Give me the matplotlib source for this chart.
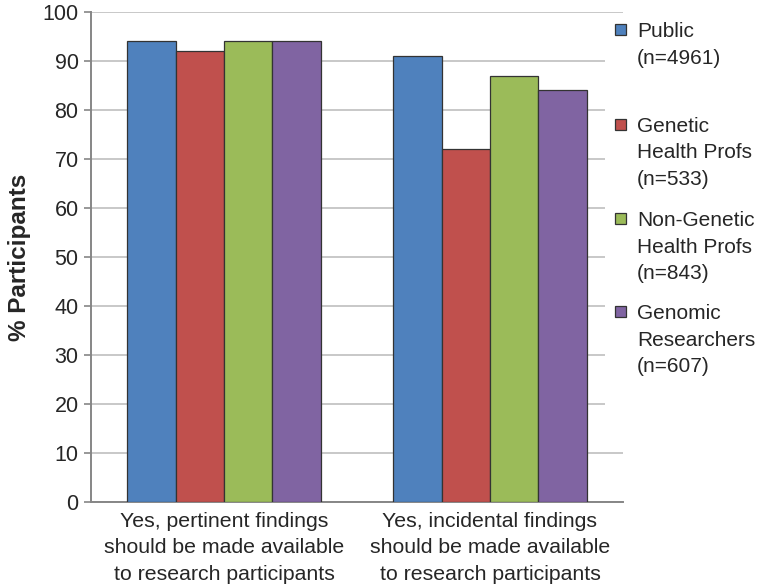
import matplotlib.pyplot as plt
import numpy as np
from matplotlib.patches import Rectangle

plt.rcParams["font.family"] = ["Liberation Sans", "DejaVu Sans"]
plt.rcParams["text.color"] = "#262626"
plt.rcParams["axes.labelcolor"] = "#262626"
plt.rcParams["ytick.labelcolor"] = "#262626"
plt.rcParams["xtick.labelcolor"] = "#262626"

categories = [
    "Yes, pertinent findings\nshould be made available\nto research participants",
    "Yes, incidental findings\nshould be made available\nto research participants",
]
series_names = [
    "Public\n(n=4961)",
    "Genetic\nHealth Profs\n(n=533)",
    "Non-Genetic\nHealth Profs\n(n=843)",
    "Genomic\nResearchers\n(n=607)",
]
public = [94, 91]
genetic_profs = [92, 72]
non_genetic_profs = [94, 87]
genomic_researchers = [94, 84]
colors = ["#4F81BD", "#C0504D", "#9BBB59", "#8064A2"]

values = [public, genetic_profs, non_genetic_profs, genomic_researchers]

fig = plt.figure(figsize=(7.6, 5.85), dpi=100)
ax = fig.add_axes([91 / 760, 83 / 585, 532 / 760, 490 / 585])

x = np.arange(len(categories))
width = 0.182
for i, vals in enumerate(values):
    ax.bar(x + (i - 1.5) * width, vals, width, color=colors[i],
           edgecolor="#333333", linewidth=0.9, zorder=3)

ax.set_xlim(-0.5, 1.5)
ax.set_ylim(0, 100)
ax.set_yticks(range(0, 101, 10))
ax.set_xticks(x)
ax.set_xticklabels(categories, fontsize=15.3, linespacing=1.5)
ax.tick_params(axis="x", length=0, pad=7)
ax.tick_params(axis="y", labelsize=15.5, length=5, width=1.2, color="#868686", pad=4)
ax.yaxis.grid(True, color="#bfbfbf", linewidth=1.2, zorder=0)
ax.set_axisbelow(True)
for s in ["top", "right"]:
    ax.spines[s].set_visible(False)
for s in ["left", "bottom"]:
    ax.spines[s].set_color("#868686")
    ax.spines[s].set_linewidth(1.4)
ax.set_ylabel("% Participants", fontsize=17.5, fontweight="bold", labelpad=8)

# legend, drawn by hand so entries sit like the original
fig.patches.append(Rectangle((605 / 760, 1 - 420 / 585), 155 / 760, 400 / 585,
                             transform=fig.transFigure, facecolor="white",
                             edgecolor="none", zorder=5))
tops = [23, 118, 212, 305]
for name, c, t in zip(series_names, colors, tops):
    fig.patches.append(Rectangle((615 / 760, 1 - (t + 12) / 585), 11 / 760, 11 / 585,
                                 transform=fig.transFigure, facecolor=c,
                                 edgecolor="#333333", linewidth=0.9, zorder=6))
    fig.text(637 / 760, 1 - (t - 1) / 585, name, fontsize=15, va="top", ha="left",
             linespacing=1.5, zorder=6)

fig.savefig("out.png", dpi=100)
